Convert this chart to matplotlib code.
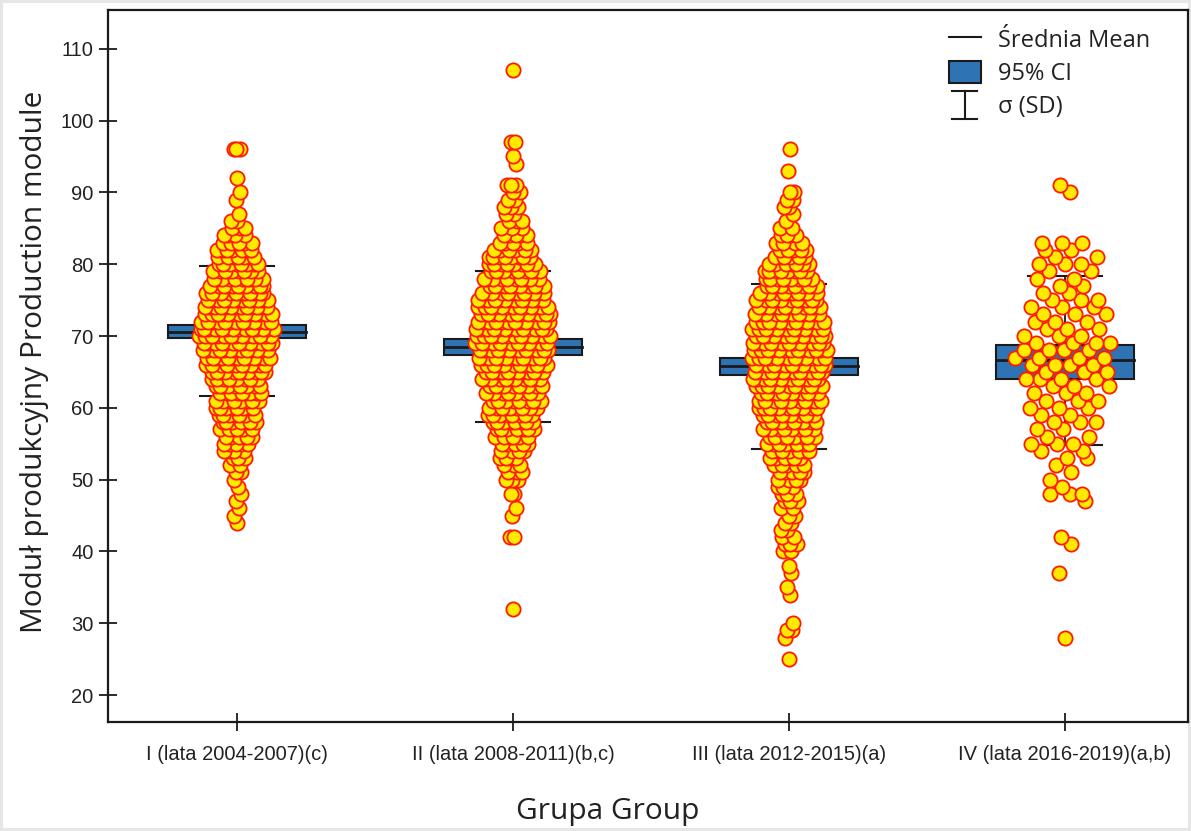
import numpy as np
import matplotlib
matplotlib.use('Agg')
import matplotlib.pyplot as plt
from matplotlib.patches import Rectangle, Patch
from matplotlib.lines import Line2D
from matplotlib.legend_handler import HandlerBase

# grupy / groups
groups = ['I (lata 2004-2007)(c)', 'II (lata 2008-2011)(b,c)',
          'III (lata 2012-2015)(a)', 'IV (lata 2016-2019)(a,b)']

# wartosci i liczebnosci (value -> count)
vals_1 = [96, 92, 90, 89, 87, 86, 85, 84, 83, 82, 81, 80, 79, 78, 77, 76, 75, 74, 73, 72,
          71, 70, 69, 68, 67, 66, 65, 64, 63, 62, 61, 60, 59, 58, 57, 56, 55, 54, 53, 52,
          51, 50, 49, 48, 47, 46, 45, 44]
cnts_1 = [3, 1, 1, 1, 1, 2, 3, 4, 6, 7, 7, 8, 9, 10, 11, 12, 13, 13, 14, 15,
          16, 16, 15, 14, 13, 12, 11, 10, 9, 9, 8, 8, 7, 7, 6, 6, 5, 4, 3, 2,
          2, 1, 1, 1, 1, 1, 1, 1]

vals_2 = [107, 97, 95, 94, 91, 90, 89, 88, 87, 86, 85, 84, 83, 82, 81, 80, 79, 78, 77, 76,
          75, 74, 73, 72, 71, 70, 69, 68, 67, 66, 65, 64, 63, 62, 61, 60, 59, 58, 57, 56,
          55, 54, 53, 52, 51, 50, 48, 46, 45, 42, 32]
cnts_2 = [1, 2, 1, 1, 3, 2, 2, 3, 2, 3, 3, 5, 5, 6, 8, 9, 10, 10, 11, 12,
          13, 13, 14, 14, 14, 14, 14, 13, 13, 12, 12, 11, 10, 10, 9, 9, 8, 8, 7, 6,
          5, 4, 4, 3, 3, 3, 2, 1, 1, 2, 1]

vals_3 = [96, 93, 90, 89, 88, 87, 86, 85, 84, 83, 82, 81, 80, 79, 78, 77, 76, 75, 74, 73,
          72, 71, 70, 69, 68, 67, 66, 65, 64, 63, 62, 61, 60, 59, 58, 57, 56, 55, 54, 53,
          52, 51, 50, 49, 48, 47, 46, 45, 44, 43, 42, 41, 40, 38, 37, 35, 34, 30, 29, 28, 25]
cnts_3 = [1, 1, 2, 2, 2, 1, 1, 2, 4, 4, 5, 6, 7, 8, 9, 10, 11, 11, 12, 12,
          13, 13, 14, 14, 14, 14, 14, 13, 13, 12, 12, 11, 11, 10, 10, 9, 9, 8, 7, 6,
          5, 5, 4, 3, 3, 3, 2, 2, 2, 2, 2, 3, 2, 1, 1, 1, 1, 1, 2, 1, 1]

vals_4 = [91, 90, 83, 82, 81, 80, 79, 78, 77, 76, 75, 74, 73, 72, 71, 70, 69, 68, 67, 66,
          65, 64, 63, 62, 61, 60, 59, 58, 57, 56, 55, 54, 53, 52, 51, 50, 49, 48, 47, 42,
          41, 37, 28]
cnts_4 = [1, 1, 3, 2, 2, 3, 2, 2, 2, 2, 3, 3, 3, 3, 3, 3, 4, 4, 4, 4,
          3, 4, 3, 3, 3, 3, 2, 3, 2, 2, 3, 2, 2, 1, 1, 1, 1, 3, 1, 1,
          1, 1, 1]

# statystyki
means = [70.6, 68.5, 65.8, 66.6]
ci_low = [69.7, 67.4, 64.6, 64.0]
ci_high = [71.5, 69.6, 66.9, 68.8]
sd_low = [61.6, 58.0, 54.3, 54.8]
sd_high = [79.7, 79.1, 77.2, 78.3]

all_vals = [vals_1, vals_2, vals_3, vals_4]
all_cnts = [cnts_1, cnts_2, cnts_3, cnts_4]
spread = [0.14, 0.14, 0.14, 0.19]

txt = '#222222'
lab_font = ['Open Sans', 'DejaVu Sans']
tick_font = ['Liberation Sans Narrow', 'Liberation Sans', 'DejaVu Sans']


def jitter(vals, center, width):
    # rozrzut punktow proporcjonalny do lokalnej gestosci
    vals = np.sort(vals)
    cnt = np.array([np.sum(np.abs(vals - v) <= 1.5) for v in vals])
    w = width * (cnt / cnt.max()) ** 0.8
    k = np.arange(len(vals))
    u = ((k * 0.6180339887 + 0.5) % 1.0) * 2 - 1
    return center + u * w, vals


class SDHandler(HandlerBase):
    def create_artists(self, legend, orig_handle, xdescent, ydescent,
                       width, height, fontsize, trans):
        cx = width / 2 - xdescent
        y0 = -ydescent - 0.1 * height
        y1 = -ydescent + 1.1 * height
        hw = 0.4 * width
        kw = dict(color='#1a1a1a', lw=1.5, transform=trans)
        return [Line2D([cx, cx], [y0, y1], **kw),
                Line2D([cx - hw, cx + hw], [y0, y0], **kw),
                Line2D([cx - hw, cx + hw], [y1, y1], **kw)]


class SDKey:
    pass


fig = plt.figure(figsize=(11.91, 8.31), dpi=100)
fig.patch.set_facecolor('white')
fig.patch.set_edgecolor('#e6e6e6')
fig.patch.set_linewidth(4)
ax = fig.add_axes([108 / 1191, 1 - 722 / 831, (1188 - 108) / 1191, (722 - 10) / 831])

ax.set_xlim(-0.467, 3.446)
ax.set_ylim(16.25, 115.4)

for i in range(4):
    # przedzial ufnosci 95% i srednia
    ax.plot([i, i], [ci_high[i], sd_high[i]], color='#1a1a1a', lw=1.3, zorder=1)
    ax.plot([i, i], [sd_low[i], ci_low[i]], color='#1a1a1a', lw=1.3, zorder=1)
    ax.plot([i - 0.135, i + 0.135], [sd_high[i], sd_high[i]], color='#1a1a1a', lw=1.5, zorder=1)
    ax.plot([i - 0.135, i + 0.135], [sd_low[i], sd_low[i]], color='#1a1a1a', lw=1.5, zorder=1)
    ax.add_patch(Rectangle((i - 0.25, ci_low[i]), 0.5, ci_high[i] - ci_low[i],
                           facecolor='#2e74b5', edgecolor='#1a1a1a', lw=1.5, zorder=2))
    ax.plot([i - 0.25, i + 0.25], [means[i], means[i]], color='#1a1a1a', lw=2, zorder=3)

    v = np.repeat(all_vals[i], all_cnts[i]).astype(float)
    x, y = jitter(v, i, spread[i])
    ax.scatter(x, y, s=105, facecolor='#ffea00', edgecolor='#ff1a00', linewidths=1.3, zorder=4)

ax.set_yticks(range(20, 111, 10))
ax.set_xticks(range(4))
ax.set_xticklabels(groups)
ax.tick_params(direction='inout', length=13, width=1.3, color='#1a1a1a', labelcolor=txt,
               labelsize=14.5, pad=4)
for t in ax.get_xticklabels() + ax.get_yticklabels():
    t.set_family(tick_font)
ax.tick_params(axis='x', pad=10)

for s in ax.spines.values():
    s.set_linewidth(1.6)
    s.set_color('#1a1a1a')

ax.set_ylabel('Moduł produkcyjny Production module', fontsize=21.5, family=lab_font, color=txt)
ax.yaxis.set_label_coords(-0.055, 0.506)
ax.set_xlabel('Grupa Group', fontsize=21.5, family=lab_font, color=txt)
ax.xaxis.set_label_coords((608 - 108) / 1080, -0.105)

handles = [Line2D([], [], color='#1a1a1a', lw=1.5),
           Patch(facecolor='#2e74b5', edgecolor='#1a1a1a', lw=1.5),
           SDKey()]
labels = ['Średnia Mean', '95% CI', 'σ (SD)']
leg = ax.legend(handles, labels, loc='upper left', bbox_to_anchor=(937 / 1191, 1 - 16 / 831),
                bbox_transform=fig.transFigure, frameon=False, handlelength=1.35,
                handleheight=1.1, labelspacing=0.32, handletextpad=0.75, borderpad=0,
                handler_map={SDKey: SDHandler()},
                prop={'family': lab_font, 'size': 17})
for t in leg.get_texts():
    t.set_color(txt)

fig.savefig('out.png', dpi=100)
